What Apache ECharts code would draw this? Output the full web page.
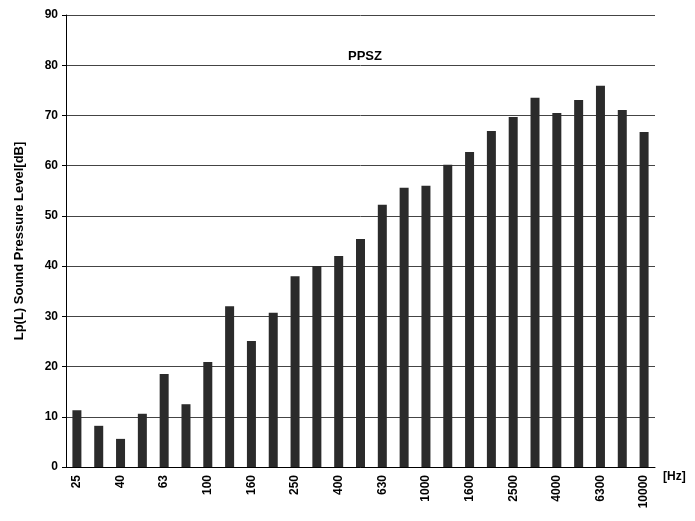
<!DOCTYPE html>
<html><head><meta charset="utf-8">
<script src="https://cdn.jsdelivr.net/npm/echarts@6/dist/echarts.min.js"></script>
<style>html,body{margin:0;padding:0;background:#fff}#c{width:695px;height:521px}</style>
</head><body><div id="c"></div>
<script>
const categories=['25','31.5','40','50','63','80','100','125','160','200','250','315','400','500','630','800','1000','1250','1600','2000','2500','3150','4000','5000','6300','8000','10000'];
const values=[11.3,8.2,5.6,10.6,18.5,12.5,20.9,32,25.1,30.7,38,40,42,45.4,52.2,55.6,56,60.2,62.7,66.9,69.7,73.5,70.5,73.1,75.9,71.1,66.7];
const chart=echarts.init(document.getElementById('c'));
chart.setOption({
  animation:false,
  title:{text:'PPSZ',left:360,top:45,textAlign:'center',textStyle:{fontSize:13,fontWeight:'bold',color:'#000',fontFamily:'Liberation Sans'}},
  grid:{left:66,right:40,top:15,bottom:54},
  xAxis:{type:'category',data:categories,name:'[Hz]',nameLocation:'end',nameGap:8,
    nameTextStyle:{fontSize:12,fontWeight:'bold',color:'#000',fontFamily:'Liberation Sans',verticalAlign:'top',padding:[4,0,0,0]},
    axisLine:{lineStyle:{color:'#000'}},axisTick:{show:false},
    axisLabel:{interval:1,rotate:90,fontSize:12,fontWeight:'bold',color:'#000',fontFamily:'Liberation Sans',margin:8}},
  yAxis:{type:'value',min:0,max:90,interval:10,name:'Lp(L) Sound Pressure Level[dB]',nameLocation:'middle',nameGap:40,
    nameTextStyle:{fontSize:13,fontWeight:'bold',color:'#000',fontFamily:'Liberation Sans'},
    axisLine:{show:true,lineStyle:{color:'#000'}},axisTick:{show:true,length:4,lineStyle:{color:'#000'}},
    axisLabel:{fontSize:12,fontWeight:'bold',color:'#000',fontFamily:'Liberation Sans'},
    splitLine:{lineStyle:{color:'#444',width:1}}},
  series:[{type:'bar',data:values,barWidth:9,itemStyle:{color:'#2b2b2b'}}]
});
</script></body></html>
